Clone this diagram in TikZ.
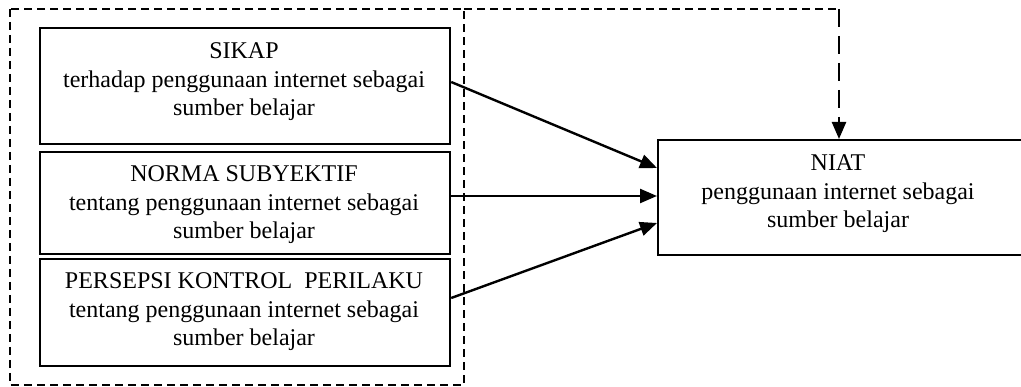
\documentclass[tikz,border=0pt]{standalone}
\usepackage{fontspec}
\setmainfont{Liberation Serif}
\usetikzlibrary{arrows.meta}
\begin{document}
\begin{tikzpicture}[x=1pt,y=-1pt,
  box/.style={draw, line width=2.2pt, inner sep=0pt, anchor=north west},
  txt/.style={align=center, inner sep=0pt, font=\fontsize{24}{28.5}\selectfont},
  arr/.style={line width=2.4pt, -{Triangle[length=17pt,width=14pt]}},
  dashbox/.style={line width=1.8pt, dash pattern=on 8pt off 5pt},
  dasharr/.style={line width=2.4pt, dash pattern=on 18pt off 9pt, -{Triangle[length=17pt,width=14pt]}}]
\useasboundingbox (0,0) rectangle (1021,387);
\node[box, minimum width=410pt, minimum height=116pt] (sikap) at (39,27) {};
\node[box, minimum width=410pt, minimum height=102pt] (norma) at (39,151) {};
\node[box, minimum width=410pt, minimum height=107pt] (pkp) at (39,258) {};
\node[box, minimum width=380pt, minimum height=115pt] (niat) at (657,139) {};
\node[txt] (sikaptxt) at (244,82)
  {SIKAP\\terhadap penggunaan internet sebagai\\sumber belajar};
\node[txt] (normatxt) at (244,205)
  {NORMA SUBYEKTIF\\tentang penggunaan internet sebagai\\sumber belajar};
\node[txt] (pkptxt) at (244,312)
  {PERSEPSI KONTROL\ \ PERILAKU\\tentang penggunaan internet sebagai\\sumber belajar};
\node[txt] (niattxt) at (838,194)
  {NIAT\\penggunaan internet sebagai\\sumber belajar};
\coordinate (tl) at (10,9);
\coordinate (br) at (464,385);
\coordinate (tr) at (839,9);
\draw[dashbox] (tl) rectangle (br);
\draw[dashbox] (464,9) -- (tr);
\draw[dasharr] (tr) -- (niat.north west -| tr);
\draw[arr] (sikap.east |- 0,82) -- (657,168);
\draw[arr] (norma.east |- 0,196) -- (657,196);
\draw[arr] (pkp.east |- 0,298) -- (657,223);
\end{tikzpicture}
\end{document}
